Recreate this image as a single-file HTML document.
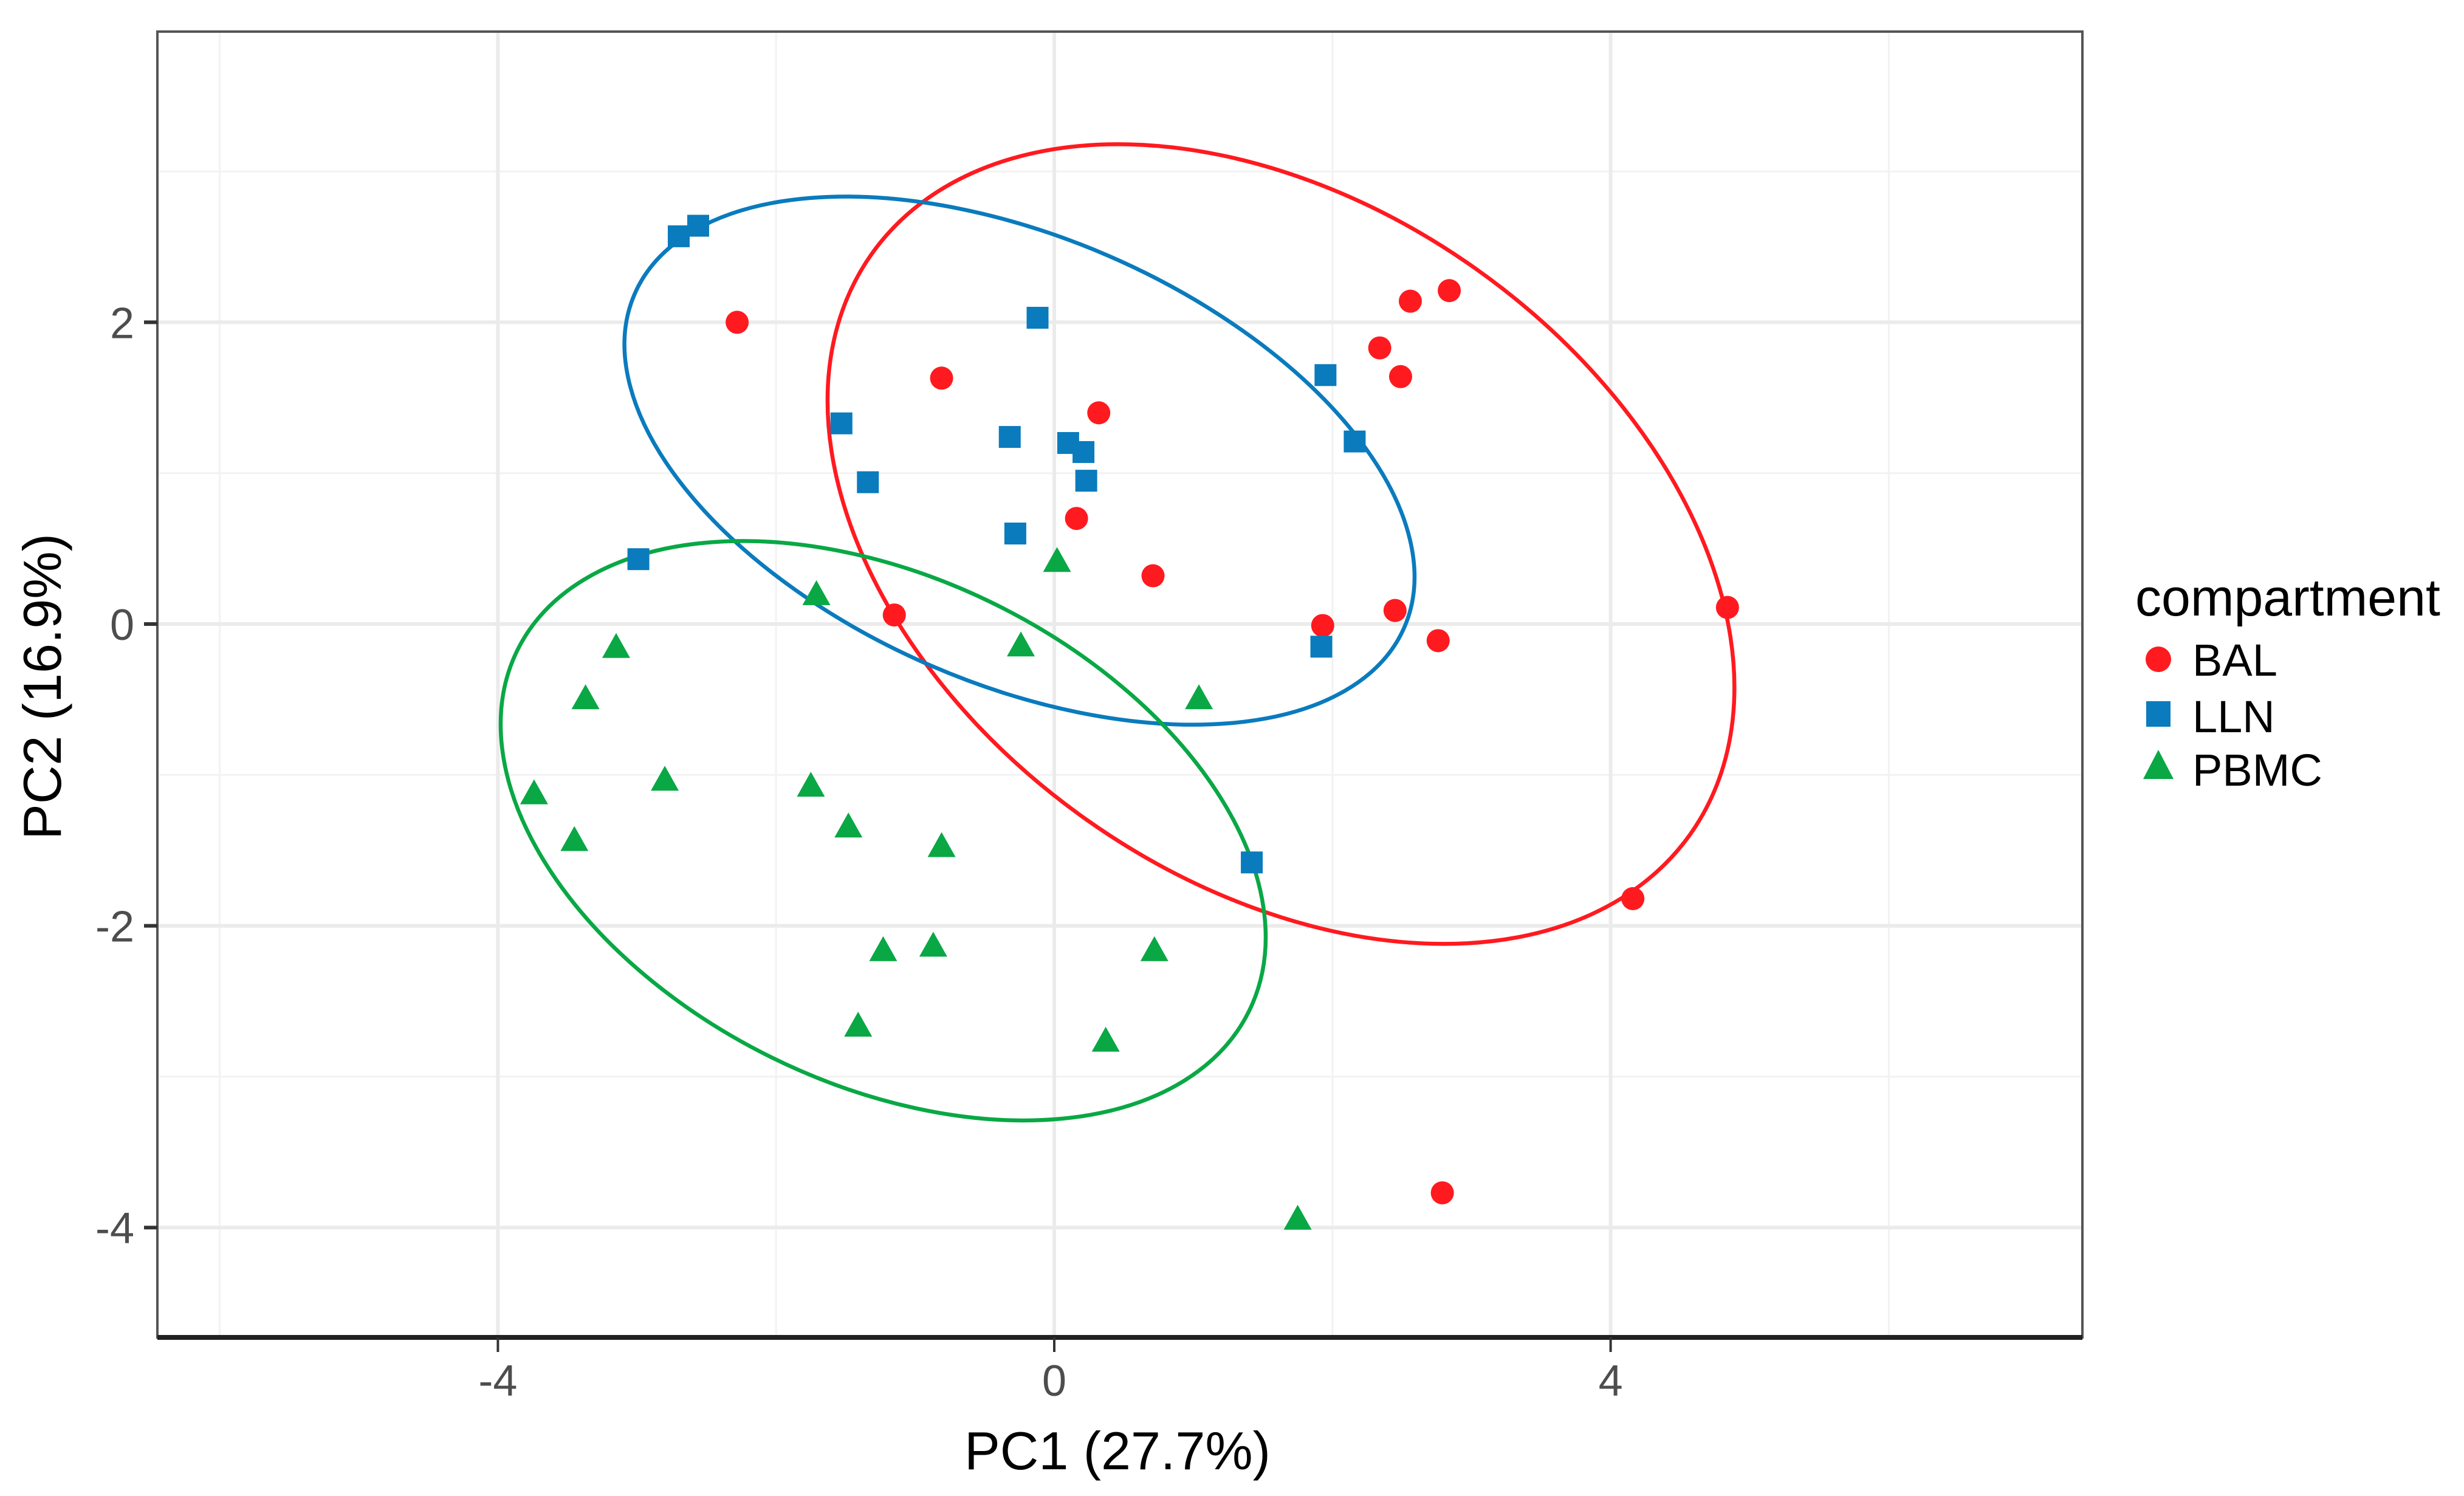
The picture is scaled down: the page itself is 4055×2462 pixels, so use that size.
<!DOCTYPE html>
<html><head><meta charset="utf-8"><style>
html,body{margin:0;padding:0;background:#fff}
svg{display:block;font-family:"Liberation Sans",sans-serif}
</style></head><body>
<svg id="chart" width="4055" height="2462" viewBox="0 0 4055 2462" xmlns="http://www.w3.org/2000/svg">
<rect width="4055" height="2462" fill="#fff"/>
<g id="grid"></g>
<g id="ellipses"></g>
<g id="points"></g>
<g id="axes"></g>
<text x="1839" y="2418" font-size="88" text-anchor="middle" fill="#000">PC1 (27.7%)</text>
<text transform="translate(100,1130) rotate(-90)" font-size="88" text-anchor="middle" fill="#000">PC2 (16.9%)</text>
<g>
<text x="3514" y="1013" font-size="86" fill="#000">compartment</text>
<circle cx="3552" cy="1085" r="21" fill="#ff1a1f"/>
<text x="3608" y="1112" font-size="74" fill="#000">BAL</text>
<rect x="3532" y="1154" width="40" height="42" fill="#0a7bbd"/>
<text x="3608" y="1205" font-size="74" fill="#000">LLN</text>
<polygon points="3552,1234 3577,1282 3527,1282" fill="#09a845"/>
<text x="3608" y="1293" font-size="74" fill="#000">PBMC</text>
</g>
</svg>
<script>
const balX=[-2.28,-0.81,0.32,0.16,0.71,-1.15,1.93,2.45,2.76,2.34,2.49,2.56,2.84,4.84,4.16,2.79];
const balY=[2.0,1.63,1.40,0.70,0.32,0.06,-0.01,0.09,-0.11,1.83,1.64,2.14,2.21,0.11,-1.82,-3.77];
const llnX=[-2.70,-2.56,-0.12,-1.53,-1.34,-0.32,0.10,0.21,0.23,-0.28,1.95,2.16,1.92,-2.99,1.42];
const llnY=[2.57,2.64,2.03,1.33,0.94,1.24,1.20,1.14,0.95,0.60,1.65,1.21,-0.15,0.43,-1.58];
const pbmcX=[0.02,-1.71,-0.24,1.04,-3.15,-3.37,-3.74,-2.80,-3.45,-1.75,-1.48,-0.81,-1.23,-0.87,-1.41,0.72,0.37,1.75];
const pbmcY=[0.41,0.19,-0.15,-0.50,-0.16,-0.50,-1.13,-1.04,-1.44,-1.08,-1.35,-1.48,-2.17,-2.14,-2.67,-2.17,-2.77,-3.95];
// ellipse params (data units): center x, center y, half-width, half-height, x-offset of topmost point
const ellipseBAL=[1.63,0.53,3.26,2.65,-1.17];
const ellipseLLN=[-0.25,1.083,2.84,1.75,-1.25];
const ellipsePBMC=[-1.23,-1.37,2.75,1.92,-1.01];
const xTicks=[-4,0,4];
const yTicks=[-4,-2,0,2];
const xMinor=[-6,-2,2,6];
const yMinor=[-3,-1,1,3];

const NS="http://www.w3.org/2000/svg";
const L=259,R=3427,T=52,B=2201;
const X0=1735,UX=228.9,Y0=1027,UY=248.3;
const sx=v=>X0+v*UX, sy=v=>Y0-v*UY;
function mk(tag,attrs,parent){const e=document.createElementNS(NS,tag);for(const k in attrs)e.setAttribute(k,attrs[k]);parent.appendChild(e);return e;}
const grid=document.getElementById('grid');
xMinor.forEach(v=>{const l=mk('line',{x1:sx(v),x2:sx(v),y1:T,y2:B,stroke:'#f2f2f2','stroke-width':3},grid);

});
yMinor.forEach(v=>{const l=mk('line',{x1:L,x2:R,y1:sy(v),y2:sy(v),stroke:'#f2f2f2','stroke-width':3},grid);

});
xTicks.forEach(v=>{const l=mk('line',{x1:sx(v),x2:sx(v),y1:T,y2:B,stroke:'#ebebeb','stroke-width':6},grid);

});
yTicks.forEach(v=>{const l=mk('line',{x1:L,x2:R,y1:sy(v),y2:sy(v),stroke:'#ebebeb','stroke-width':6},grid);

});

const eg=document.getElementById('ellipses');
function drawEllipse(p,color,name){
  const cx=sx(p[0]),cy=sy(p[1]);
  const hw=p[2]*UX,hh=p[3]*UY,tdx=p[4]*UX;
  const A=hw*hw,C=hh*hh,Bc=-tdx*hh;
  const m=(A+C)/2,d=(A-C)/2,r=Math.sqrt(d*d+Bc*Bc);
  const a=Math.sqrt(m+r),b=Math.sqrt(Math.max(m-r,1));
  const ang=0.5*Math.atan2(2*Bc,A-C)*180/Math.PI;
  const e=mk('ellipse',{cx:0,cy:0,rx:a,ry:b,fill:'none',stroke:color,'stroke-width':6.5,transform:`translate(${cx},${cy}) rotate(${ang})`},eg);
  
  
}
drawEllipse(ellipseBAL,'#ff1a1f','ellipse-bal');
drawEllipse(ellipseLLN,'#0a7bbd','ellipse-lln');
drawEllipse(ellipsePBMC,'#09a845','ellipse-pbmc');

const pg=document.getElementById('points');
balX.forEach((v,i)=>{const c=mk('circle',{cx:sx(v),cy:sy(balY[i]),r:19,fill:'#ff1a1f'},pg);

});
llnX.forEach((v,i)=>{const c=mk('rect',{x:sx(v)-18,y:sy(llnY[i])-18,width:36,height:36,fill:'#0a7bbd'},pg);

});
pbmcX.forEach((v,i)=>{const x=sx(v),y=sy(pbmcY[i]);
const c=mk('polygon',{points:`${x},${y-25} ${x+23},${y+16} ${x-23},${y+16}`,fill:'#09a845'},pg);

});

const ax=document.getElementById('axes');
const fr=mk('rect',{x:L,y:T,width:R-L,height:B-T,fill:'none',stroke:'#555','stroke-width':4},ax);


const bl=mk('line',{x1:L,x2:R,y1:B,y2:B,stroke:'#222','stroke-width':8},ax);


xTicks.forEach(v=>{
  const t=mk('line',{x1:sx(v),x2:sx(v),y1:B,y2:B+24,stroke:'#333','stroke-width':4},ax);
  
  
  const s=mk('text',{x:sx(v),y:2297,'font-size':72,'text-anchor':'middle',fill:'#4d4d4d'},ax);
  s.textContent=String(v);
  
  
});
yTicks.forEach(v=>{
  const t=mk('line',{x1:L-22,x2:L,y1:sy(v),y2:sy(v),stroke:'#333','stroke-width':6},ax);
  
  
  const s=mk('text',{x:L-38,y:sy(v)+26,'font-size':72,'text-anchor':'end',fill:'#4d4d4d'},ax);
  s.textContent=String(v);
  
  
});
</script>
</body></html>
